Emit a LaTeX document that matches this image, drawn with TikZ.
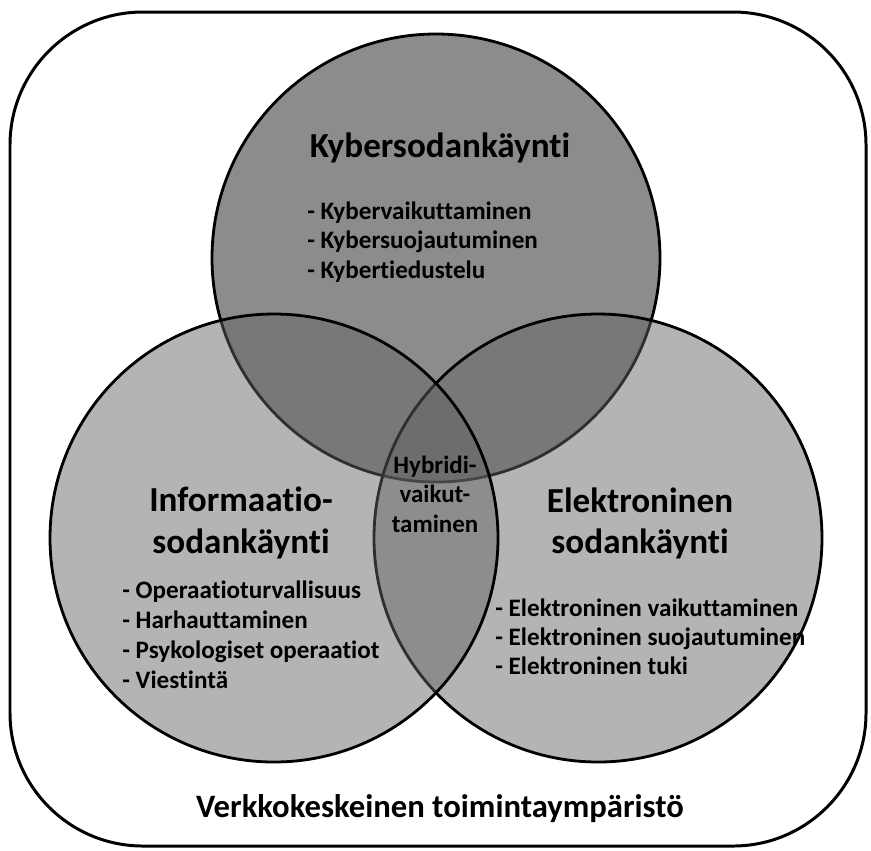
\documentclass[tikz,border=0pt]{standalone}
\usepackage{fontspec}
\setmainfont{Carlito}[Ligatures=NoCommon]
\usepackage{tikz}

\definecolor{kybergray}{gray}{0.55}
\definecolor{venngray}{gray}{0.39}

\begin{document}
\begin{tikzpicture}[x=0.02cm,y=-0.02cm,
    otsikko/.style={font=\bfseries\fontsize{20}{24}\selectfont,anchor=base,inner sep=0pt},
    kohta/.style={font=\bfseries\fontsize{14.3}{17}\selectfont,anchor=base west,inner sep=0pt},
    hybridi/.style={font=\bfseries\fontsize{14.2}{17}\selectfont,anchor=base,inner sep=0pt},
    ympyra/.style={line width=1.6pt}]
  \useasboundingbox (0,0) rectangle (871,850);
  \draw[line width=1.7pt,rounded corners=2.66cm] (10,12) rectangle (866,846);
  % circles
  \draw[ympyra,fill=kybergray] (436,258) circle (224);
  \draw[ympyra,fill=venngray,fill opacity=0.48] (598,538) circle (224);
  \draw[ympyra,fill=venngray,fill opacity=0.48] (274,538) circle (224);
  % titles
  \node[otsikko] (kyber) at (440,157) {Kybersodankäynti};
  \node[otsikko] (info1) at (241,511) {Informaatio-};
  \node[otsikko] (info2) at (241,553) {sodankäynti};
  \node[otsikko] (elek1) at (640,512) {Elektroninen};
  \node[otsikko] (elek2) at (640,553) {sodankäynti};
  \foreach \t [count=\i] in {Hybridi-,vaikut-,taminen} {
    \node[hybridi] (hyb\i) at (435,{443.5+29.5*\i}) {\t};
  }
  % lists
  \foreach \t [count=\i] in {Kybervaikuttaminen,Kybersuojautuminen,Kybertiedustelu} {
    \node[kohta] (kyb\i) at (307,{189.5+29.5*\i}) {- \t};
  }
  \foreach \t [count=\i] in {Operaatioturvallisuus,Harhauttaminen,Psykologiset operaatiot,Viestintä} {
    \node[kohta] (inf\i) at (122,{568+30*\i}) {- \t};
  }
  \foreach \t [count=\i] in {Elektroninen vaikuttaminen,Elektroninen suojautuminen,Elektroninen tuki} {
    \node[kohta] (ele\i) at (495,{587+29*\i}) {- \t};
  }
  \node[font=\bfseries\fontsize{18.6}{22}\selectfont,anchor=base,inner sep=0pt] (verkko) at (440,817) {Verkkokeskeinen toimintaympäristö};
\end{tikzpicture}
\end{document}
